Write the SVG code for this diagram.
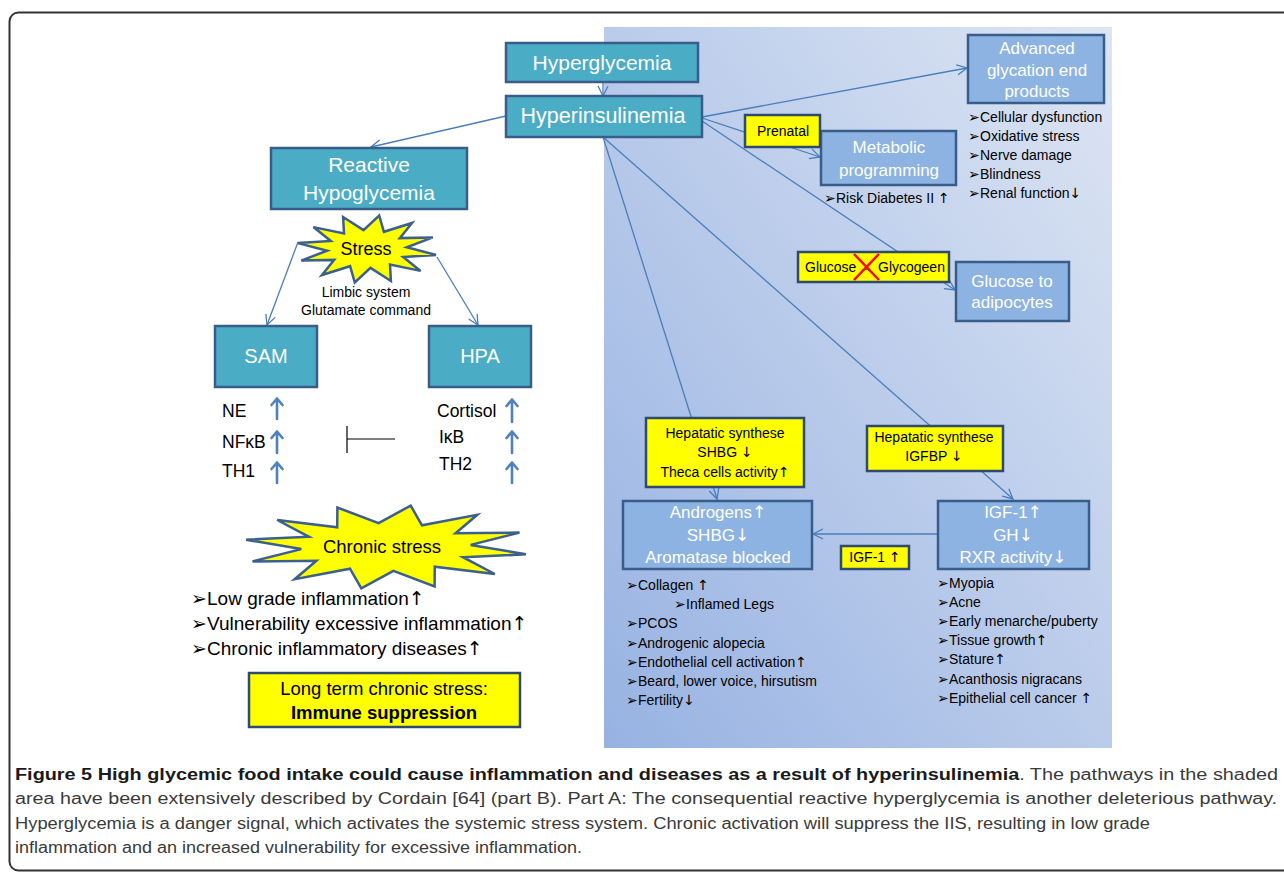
<svg xmlns="http://www.w3.org/2000/svg" width="1284" height="872" viewBox="0 0 1284 872">
<defs>
<linearGradient id="pg" x1="0" y1="1" x2="1" y2="0">
<stop offset="0" stop-color="#97b2e2"/>
<stop offset="1" stop-color="#dde5f3"/>
</linearGradient>
<marker id="ah" viewBox="0 0 12 12" refX="11" refY="6" markerWidth="12" markerHeight="12" markerUnits="userSpaceOnUse" orient="auto">
<path d="M1,1 L11,6 L1,11" fill="none" stroke="#4a7ebb" stroke-width="1.3"/>
</marker>
<style>
text{font-family:"Liberation Sans",Arial,sans-serif}
.ar{font-family:"DejaVu Sans",sans-serif}
.teal{fill:#4bacc6;stroke:#385d8a;stroke-width:2.5}
.lb{fill:#8db3e2;stroke:#385d8a;stroke-width:2.5}
.yl{fill:#ffff00;stroke:#2e4a6e;stroke-width:2.5}
.star{fill:#ffff00;stroke:#3b5f8e;stroke-width:2.5;stroke-linejoin:miter}
.wt{fill:#ffffff;text-anchor:middle}
.bk{fill:#000000}
.mid{text-anchor:middle}
.conn{stroke:#4a7ebb;stroke-width:1.3;fill:none;marker-end:url(#ah)}
.up{stroke:#4f81bd;stroke-width:2.6;fill:none;stroke-linecap:round;stroke-linejoin:round}
.s14{font-size:14px}
.cap{font-size:16px;fill:#3a3a3a}
</style>
</defs>
<rect x="9.5" y="12.5" width="1290" height="858" rx="9" fill="#ffffff" stroke="#333333" stroke-width="2"/>
<rect id="panel" x="604" y="27" width="508" height="721" fill="url(#pg)"/>

<g id="connectors">
<line class="conn" x1="603" y1="83" x2="603" y2="96"/>
<line class="conn" x1="506" y1="116" x2="371" y2="147"/>
<line class="conn" x1="702" y1="117" x2="967" y2="68"/>
<line class="conn" x1="702" y1="118" x2="820" y2="157"/>
<line class="conn" x1="702" y1="121" x2="955" y2="290"/>
<line class="conn" x1="603" y1="137" x2="717" y2="499"/>
<line class="conn" x1="603" y1="137" x2="1013" y2="499"/>
<line class="conn" x1="938" y1="534" x2="813" y2="534"/>
<line class="conn" x1="298" y1="242" x2="267" y2="325"/>
<line class="conn" x1="437" y1="257" x2="478" y2="325"/>
<path d="M395,439 H347 M347,426 V453" stroke="#000" stroke-width="1.2" fill="none"/>
</g>

<g id="hyperglycemia">
<rect class="teal" x="506" y="43" width="192" height="39"/>
<text class="wt" x="602" y="70" font-size="21">Hyperglycemia</text>
</g>
<g id="hyperinsulinemia">
<rect class="teal" x="506" y="96" width="196" height="41"/>
<text class="wt" x="603" y="123" font-size="21.5">Hyperinsulinemia</text>
</g>
<g id="reactive">
<rect class="teal" x="271" y="148" width="196" height="61"/>
<text class="wt" x="369" y="172" font-size="21">Reactive</text>
<text class="wt" x="369" y="200" font-size="21">Hypoglycemia</text>
</g>
<g id="stress">
<polygon class="star" points="436,254.9 403.2,257 420.6,270.9 390,264.6 390.9,281 370.5,267.9 354.8,282.5 350.1,266.2 322,275 334.2,259.9 301.2,260.6 327.2,250.7 298,243.1 330.8,241 313.4,227.1 344,233.4 343.1,217 363.5,230.1 379.2,215.5 383.9,231.8 412,223 399.8,238.1 432.8,237.4 406.8,247.3"/>
<text class="bk mid" x="366" y="255" font-size="18">Stress</text>
<text class="bk mid s14" x="366" y="297">Limbic system</text>
<text class="bk mid s14" x="366" y="315">Glutamate command</text>
</g>
<g id="sam">
<rect class="teal" x="215" y="326" width="102" height="61"/>
<text class="wt" x="266" y="363" font-size="20">SAM</text>
<text class="bk" x="222" y="417" font-size="17.5">NE</text>
<text class="bk" x="222" y="448" font-size="17.5">NFκB</text>
<text class="bk" x="222" y="477" font-size="17.5">TH1</text>
<path class="up" d="M277,419 V399 M271.5,405 L277,398.5 L282.5,405"/>
<path class="up" d="M277,453 V432 M271.5,438 L277,431.5 L282.5,438"/>
<path class="up" d="M277,483 V463 M271.5,469 L277,462.5 L282.5,469"/>
</g>
<g id="hpa">
<rect class="teal" x="429" y="326" width="102" height="61"/>
<text class="wt" x="480" y="363" font-size="20">HPA</text>
<text class="bk" x="437" y="417" font-size="17.5">Cortisol</text>
<text class="bk" x="439" y="443" font-size="17.5">IκB</text>
<text class="bk" x="439" y="470" font-size="17.5">TH2</text>
<path class="up" d="M512,422 V400 M506.5,406 L512,399.5 L517.5,406"/>
<path class="up" d="M512,453 V432 M506.5,438 L512,431.5 L517.5,438"/>
<path class="up" d="M512,483 V463 M506.5,469 L512,462.5 L517.5,469"/>
</g>
<g id="chronic">
<polygon class="star" points="525.9,554.3 463,557.2 494.8,574 434.8,566.7 434.6,586.5 393.4,570.9 361.3,588.4 350,568.7 294.7,579.2 316.4,560.8 252.5,561.4 301.3,549.1 246.1,539.7 309,536.8 277.2,520 337.2,527.3 337.4,507.5 378.6,523.1 410.7,505.6 422,525.3 477.3,514.8 455.6,533.2 519.5,532.6 470.7,544.9"/>
<text class="bk mid" x="382" y="553" font-size="18.5">Chronic stress</text>
<text class="bk" x="191" y="605" font-size="19">➢Low grade inflammation<tspan class="ar">↑</tspan></text>
<text class="bk" x="191" y="630" font-size="19">➢Vulnerability excessive inflammation<tspan class="ar">↑</tspan></text>
<text class="bk" x="191" y="655" font-size="19">➢Chronic inflammatory diseases<tspan class="ar">↑</tspan></text>
</g>
<g id="longterm">
<rect class="yl" x="249" y="673" width="271" height="54"/>
<text class="bk mid" x="384" y="695" font-size="18.5">Long term chronic stress:</text>
<text class="bk mid" x="384" y="719" font-size="18.5" font-weight="bold">Immune suppression</text>
</g>

<g id="age">
<rect class="lb" x="968" y="35" width="136" height="68"/>
<text class="wt" x="1037" y="54" font-size="17">Advanced</text>
<text class="wt" x="1037" y="76" font-size="17">glycation end</text>
<text class="wt" x="1037" y="97" font-size="17">products</text>
<text class="bk s14" x="968" y="122">➢Cellular dysfunction</text>
<text class="bk s14" x="968" y="141">➢Oxidative stress</text>
<text class="bk s14" x="968" y="160">➢Nerve damage</text>
<text class="bk s14" x="968" y="179">➢Blindness</text>
<text class="bk s14" x="968" y="198">➢Renal function<tspan class="ar">↓</tspan></text>
</g>
<g id="metabolic">
<rect class="lb" x="821" y="131" width="135" height="54"/>
<text class="wt" x="889" y="153" font-size="17">Metabolic</text>
<text class="wt" x="889" y="176" font-size="17">programming</text>
<text class="bk s14" x="824" y="203">➢Risk Diabetes II <tspan class="ar">↑</tspan></text>
</g>
<g id="prenatal">
<rect class="yl" x="745" y="115" width="75" height="32"/>
<text class="bk mid s14" x="783" y="136">Prenatal</text>
</g>
<g id="glycogeen">
<rect class="yl" x="798" y="252" width="151" height="30"/>
<text class="bk s14" x="805" y="272">Glucose</text>
<text class="bk s14" x="859" y="272">→</text>
<text class="bk s14" x="878" y="272">Glycogeen</text>
<path d="M854,254 L879,280 M879,254 L854,280" stroke="#ff0000" stroke-width="2.5"/>
</g>
<g id="adipocytes">
<rect class="lb" x="956" y="262" width="113" height="59"/>
<text class="wt" x="1012" y="287" font-size="17">Glucose to</text>
<text class="wt" x="1012" y="308" font-size="17">adipocytes</text>
</g>
<g id="hep-shbg">
<rect class="yl" x="646" y="418" width="158" height="69"/>
<text class="bk mid s14" x="725" y="438">Hepatatic synthese</text>
<text class="bk mid s14" x="725" y="457">SHBG <tspan class="ar">↓</tspan></text>
<text class="bk mid s14" x="725" y="477">Theca cells activity<tspan class="ar">↑</tspan></text>
</g>
<g id="hep-igfbp">
<rect class="yl" x="867" y="426" width="136" height="45"/>
<text class="bk mid s14" x="934" y="442">Hepatatic synthese</text>
<text class="bk mid s14" x="934" y="461">IGFBP <tspan class="ar">↓</tspan></text>
</g>
<g id="androgens">
<rect class="lb" x="623" y="501" width="189" height="68"/>
<text class="wt" x="718" y="518" font-size="17">Androgens<tspan class="ar">↑</tspan></text>
<text class="wt" x="718" y="541" font-size="17">SHBG<tspan class="ar">↓</tspan></text>
<text class="wt" x="718" y="563" font-size="17">Aromatase blocked</text>
<text class="bk s14" x="626" y="590">➢Collagen <tspan class="ar">↑</tspan></text>
<text class="bk s14" x="674" y="609">➢Inflamed Legs</text>
<text class="bk s14" x="626" y="628">➢PCOS</text>
<text class="bk s14" x="626" y="648">➢Androgenic alopecia</text>
<text class="bk s14" x="626" y="667">➢Endothelial cell activation<tspan class="ar">↑</tspan></text>
<text class="bk s14" x="626" y="686">➢Beard, lower voice, hirsutism</text>
<text class="bk s14" x="626" y="705">➢Fertility<tspan class="ar">↓</tspan></text>
</g>
<g id="igf1">
<rect class="lb" x="938" y="501" width="151" height="68"/>
<text class="wt" x="1013" y="518" font-size="17">IGF-1<tspan class="ar">↑</tspan></text>
<text class="wt" x="1013" y="541" font-size="17">GH<tspan class="ar">↓</tspan></text>
<text class="wt" x="1013" y="563" font-size="17">RXR activity<tspan class="ar">↓</tspan></text>
<text class="bk s14" x="937" y="588">➢Myopia</text>
<text class="bk s14" x="937" y="607">➢Acne</text>
<text class="bk s14" x="937" y="626">➢Early menarche/puberty</text>
<text class="bk s14" x="937" y="645">➢Tissue growth<tspan class="ar">↑</tspan></text>
<text class="bk s14" x="937" y="664">➢Stature<tspan class="ar">↑</tspan></text>
<text class="bk s14" x="937" y="684">➢Acanthosis nigracans</text>
<text class="bk s14" x="937" y="703">➢Epithelial cell cancer <tspan class="ar">↑</tspan></text>
</g>
<g id="igf1-label">
<rect class="yl" x="841" y="546" width="68" height="23"/>
<text class="bk mid s14" x="875" y="562">IGF-1 <tspan class="ar">↑</tspan></text>
</g>

<g id="caption">
<text class="cap" x="15" y="780" textLength="1263" lengthAdjust="spacingAndGlyphs"><tspan font-weight="bold" fill="#1a1a1a">Figure 5 High glycemic food intake could cause inflammation and diseases as a result of hyperinsulinemia</tspan>. The pathways in the shaded</text>
<text class="cap" x="15" y="804" textLength="1262" lengthAdjust="spacingAndGlyphs">area have been extensively described by Cordain [64] (part B). Part A: The consequential reactive hyperglycemia is another deleterious pathway.</text>
<text class="cap" x="15" y="829" textLength="1135" lengthAdjust="spacingAndGlyphs">Hyperglycemia is a danger signal, which activates the systemic stress system. Chronic activation will suppress the IIS, resulting in low grade</text>
<text class="cap" x="15" y="853" textLength="567" lengthAdjust="spacingAndGlyphs">inflammation and an increased vulnerability for excessive inflammation.</text>
</g>
</svg>
